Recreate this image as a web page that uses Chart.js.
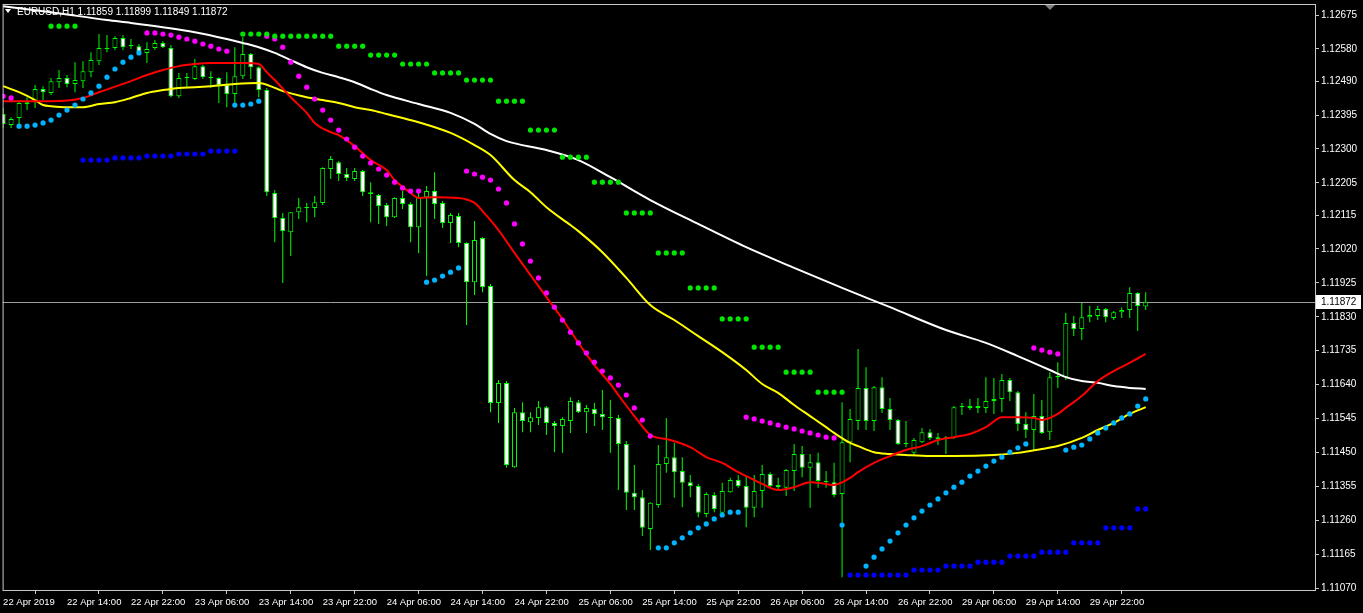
<!DOCTYPE html>
<html>
<head>
<meta charset="utf-8">
<script src="https://cdn.jsdelivr.net/npm/chart.js@4.4.1/dist/chart.umd.min.js"></script>
<style>
  html, body { margin: 0; padding: 0; background: #000; }
  canvas { display: block; }
</style>
</head>
<body>
<canvas id="chart" width="1363" height="613"></canvas>
<script>
// EURUSD H1, one value per bar (bar 0 = 22 Apr 06:00)
const symbolTitle = 'EURUSD,H1';
const timeLabels = ['22 Apr 2019', '22 Apr 14:00', '22 Apr 22:00', '23 Apr 06:00', '23 Apr 14:00',
  '23 Apr 22:00', '24 Apr 06:00', '24 Apr 14:00', '24 Apr 22:00', '25 Apr 06:00', '25 Apr 14:00',
  '25 Apr 22:00', '26 Apr 06:00', '26 Apr 14:00', '26 Apr 22:00', '29 Apr 06:00', '29 Apr 14:00', '29 Apr 22:00'];
const priceTicks = [1.12675, 1.12580, 1.12490, 1.12395, 1.12300, 1.12205, 1.12115, 1.12020, 1.11925,
  1.11830, 1.11735, 1.11640, 1.11545, 1.11450, 1.11355, 1.11260, 1.11165, 1.11070];

const openP = [
  1.12398,1.12367,1.12387,1.12426,1.12431,1.12468,1.12457,1.12487,1.12499,1.12482,
  1.12490,1.12515,1.12546,1.12580,1.12583,1.12611,1.12591,1.12588,1.12569,1.12583,
  1.12597,1.12583,1.12448,1.12499,1.12496,1.12532,1.12501,1.12499,1.12479,1.12454,
  1.12504,1.12566,1.12529,1.12465,1.12177,1.12107,1.12067,1.12123,1.12137,1.12135,
  1.12149,1.12244,1.12263,1.12230,1.12216,1.12238,1.12179,1.12171,1.12143,1.12109,
  1.12163,1.12146,1.12081,1.12165,1.12182,1.12149,1.12093,1.12112,1.12037,1.11927,
  1.12051,1.11916,1.11589,1.11645,1.11409,1.11563,1.11535,1.11547,1.11577,1.11533,
  1.11524,1.11538,1.11591,1.11563,1.11572,1.11558,1.11549,1.11547,1.11474,1.11337,
  1.11325,1.11236,1.11303,1.11418,1.11437,1.11398,1.11367,1.11356,1.11278,1.11331,
  1.11281,1.11339,1.11373,1.11356,1.11295,1.11342,1.11390,1.11359,1.11351,1.11398,
  1.11446,1.11407,1.11423,1.11370,1.11367,1.11334,1.11479,1.11538,1.11631,1.11538,
  1.11633,1.11572,1.11541,1.11474,1.11449,1.11479,1.11507,1.11493,1.11488,1.11491,
  1.11577,1.11575,1.11580,1.11575,1.11594,1.11600,1.11653,1.11619,1.11530,1.11513,
  1.11552,1.11507,1.11661,1.11661,1.11813,1.11796,1.11829,1.11832,1.11852,1.11827,
  1.11843,1.11849,1.11897,1.11859
];
const highP = [
  1.12415,1.12389,1.12431,1.12445,1.12479,1.12476,1.12499,1.12521,1.12507,1.12543,
  1.12546,1.12571,1.12622,1.12619,1.12616,1.12619,1.12608,1.12594,1.12599,1.12605,
  1.12602,1.12591,1.12513,1.12513,1.12552,1.12535,1.12518,1.12501,1.12515,1.12585,
  1.12613,1.12569,1.12532,1.12471,1.12185,1.12121,1.12123,1.12163,1.12149,1.12168,
  1.12249,1.12280,1.12266,1.12247,1.12247,1.12241,1.12207,1.12174,1.12149,1.12165,
  1.12182,1.12151,1.12177,1.12196,1.12235,1.12154,1.12121,1.12121,1.12039,1.12098,
  1.12053,1.11922,1.11653,1.11650,1.11575,1.11591,1.11563,1.11594,1.11580,1.11538,
  1.11549,1.11605,1.11597,1.11583,1.11589,1.11625,1.11597,1.11555,1.11482,1.11415,
  1.11345,1.11311,1.11471,1.11547,1.11477,1.11437,1.11387,1.11362,1.11339,1.11339,
  1.11365,1.11379,1.11387,1.11384,1.11387,1.11415,1.11395,1.11379,1.11404,1.11474,
  1.11468,1.11446,1.11449,1.11398,1.11421,1.11591,1.11572,1.11740,1.11689,1.11636,
  1.11661,1.11603,1.11544,1.11538,1.11491,1.11519,1.11516,1.11505,1.11496,1.11580,
  1.11589,1.11600,1.11603,1.11661,1.11659,1.11670,1.11659,1.11622,1.11563,1.11614,
  1.11597,1.11675,1.11703,1.11841,1.11832,1.11869,1.11860,1.11860,1.11855,1.11846,
  1.11857,1.11913,1.11899,1.11899
];
const lowP = [
  1.12359,1.12359,1.12361,1.12409,1.12415,1.12437,1.12451,1.12471,1.12473,1.12459,
  1.12471,1.12501,1.12535,1.12571,1.12577,1.12577,1.12580,1.12563,1.12541,1.12577,
  1.12583,1.12445,1.12443,1.12471,1.12493,1.12496,1.12471,1.12429,1.12417,1.12429,
  1.12496,1.12496,1.12445,1.12168,1.12039,1.11925,1.12000,1.12104,1.12095,1.12109,
  1.12143,1.12216,1.12210,1.12210,1.12210,1.12168,1.12095,1.12090,1.12084,1.12107,
  1.12132,1.12039,1.12009,1.11944,1.12104,1.12079,1.12037,1.12025,1.11807,1.11891,
  1.11899,1.11563,1.11533,1.11407,1.11407,1.11507,1.11507,1.11527,1.11499,1.11451,
  1.11449,1.11505,1.11561,1.11505,1.11524,1.11513,1.11449,1.11345,1.11289,1.11289,
  1.11216,1.11177,1.11295,1.11393,1.11323,1.11297,1.11325,1.11269,1.11269,1.11283,
  1.11275,1.11337,1.11351,1.11241,1.11269,1.11295,1.11353,1.11345,1.11328,1.11342,
  1.11381,1.11295,1.11351,1.11351,1.11325,1.11101,1.11423,1.11513,1.11513,1.11510,
  1.11561,1.11513,1.11471,1.11465,1.11443,1.11477,1.11485,1.11471,1.11446,1.11488,
  1.11555,1.11569,1.11561,1.11561,1.11558,1.11563,1.11594,1.11510,1.11491,1.11454,
  1.11502,1.11485,1.11631,1.11653,1.11776,1.11765,1.11815,1.11821,1.11815,1.11821,
  1.11827,1.11827,1.11790,1.11849
];
const closeP = [
  1.12370,1.12384,1.12429,1.12431,1.12468,1.12459,1.12490,1.12499,1.12482,1.12493,
  1.12518,1.12549,1.12583,1.12583,1.12611,1.12585,1.12588,1.12571,1.12580,1.12597,
  1.12585,1.12448,1.12499,1.12501,1.12532,1.12501,1.12499,1.12479,1.12454,1.12504,
  1.12566,1.12529,1.12465,1.12179,1.12107,1.12070,1.12123,1.12137,1.12135,1.12151,
  1.12247,1.12272,1.12230,1.12219,1.12238,1.12179,1.12174,1.12140,1.12109,1.12163,
  1.12146,1.12081,1.12165,1.12182,1.12146,1.12093,1.12115,1.12037,1.11927,1.12045,
  1.11913,1.11589,1.11645,1.11415,1.11563,1.11538,1.11549,1.11577,1.11533,1.11524,
  1.11544,1.11594,1.11563,1.11575,1.11558,1.11549,1.11547,1.11474,1.11337,1.11325,
  1.11239,1.11309,1.11418,1.11437,1.11395,1.11365,1.11356,1.11281,1.11334,1.11292,
  1.11342,1.11373,1.11356,1.11295,1.11342,1.11390,1.11356,1.11353,1.11401,1.11446,
  1.11407,1.11423,1.11370,1.11367,1.11331,1.11479,1.11544,1.11631,1.11538,1.11633,
  1.11572,1.11541,1.11474,1.11477,1.11485,1.11507,1.11491,1.11488,1.11493,1.11577,
  1.11580,1.11580,1.11575,1.11594,1.11600,1.11653,1.11619,1.11530,1.11513,1.11552,
  1.11505,1.11661,1.11664,1.11813,1.11796,1.11829,1.11835,1.11852,1.11829,1.11843,
  1.11849,1.11897,1.11860,1.11872
];

// moving averages: [bar, price]
const maFast = [[0,1.12434],[6,1.12434],[10,1.12443],[12,1.12459],[16,1.12490],[18,1.12507],[20,1.12521],
  [22,1.12532],[24,1.12538],[26,1.12541],[30,1.12541],[32,1.12538],[33,1.12515],[34,1.12493],[36,1.12445],
  [38,1.12401],[39,1.12373],[41,1.12347],[42,1.12339],[44,1.12308],[46,1.12269],[48,1.12241],[49,1.12213],
  [51,1.12177],[52,1.12163],[54,1.12165],[57,1.12163],[59,1.12149],[60,1.12126],[62,1.12073],[64,1.12009],
  [66,1.11947],[68,1.11885],[70,1.11824],[72,1.11757],[74,1.11695],[76,1.11642],[77,1.11611],[79,1.11552],
  [81,1.11499],[82,1.11491],[83,1.11488],[86,1.11465],[88,1.11437],[90,1.11421],[92,1.11395],[94,1.11373],
  [95,1.11362],[97,1.11345],[99,1.11353],[101,1.11367],[103,1.11362],[104,1.11359],[106,1.11379],[107,1.11395],
  [109,1.11421],[111,1.11440],[113,1.11457],[115,1.11468],[117,1.11485],[119,1.11493],[121,1.11502],
  [123,1.11521],[125,1.11549],[127,1.11549],[129,1.11547],[130,1.11541],[132,1.11558],[133,1.11575],
  [135,1.11608],[137,1.11650],[139,1.11678],[141,1.11701],[143,1.11726]];
const maMid = [[0,1.12476],[2,1.12459],[4,1.12437],[5,1.12423],[6,1.12420],[8,1.12417],[10,1.12417],
  [12,1.12426],[14,1.12431],[16,1.12443],[18,1.12457],[20,1.12465],[22,1.12471],[24,1.12473],[26,1.12476],
  [29,1.12482],[32,1.12485],[34,1.12471],[35,1.12462],[38,1.12445],[40,1.12437],[42,1.12429],[44,1.12417],
  [46,1.12409],[48,1.12398],[52,1.12375],[56,1.12345],[59,1.12311],[61,1.12283],[64,1.12213],[66,1.12179],
  [68,1.12137],[71,1.12087],[72,1.12070],[75,1.12011],[78,1.11939],[81,1.11863],[84,1.11821],[87,1.11776],
  [90,1.11731],[93,1.11681],[95,1.11642],[97,1.11617],[99,1.11583],[101,1.11552],[103,1.11521],[104,1.11505],
  [106,1.11477],[107,1.11468],[109,1.11451],[111,1.11446],[113,1.11443],[116,1.11440],[119,1.11440],
  [124,1.11443],[127,1.11449],[130,1.11460],[132,1.11468],[135,1.11491],[137,1.11513],[139,1.11533],
  [141,1.11558],[143,1.11577]];
const maSlow = [[0,1.12700],[6,1.12683],[13,1.12661],[16,1.12653],[20,1.12641],[24,1.12627],[28,1.12608],
  [30,1.12597],[32,1.12585],[34,1.12569],[36,1.12549],[38,1.12529],[40,1.12513],[42,1.12501],[44,1.12487],
  [46,1.12468],[48,1.12451],[52,1.12426],[56,1.12401],[59,1.12370],[61,1.12342],[63,1.12322],[68,1.12297],
  [72,1.12269],[76,1.12221],[81,1.12157],[87,1.12090],[93,1.12025],[99,1.11967],[105,1.11911],[111,1.11857],
  [118,1.11793],[123,1.11757],[127,1.11720],[131,1.11681],[133,1.11661],[135,1.11650],[137,1.11645],
  [139,1.11636],[141,1.11631],[143,1.11628]];

// parabolic SAR dots: [bar, price]
const sarUp = [[2,1.12364],[3,1.12364],[4,1.12367],[5,1.12373],[6,1.12381],[7,1.12395],[8,1.12409],[9,1.12423],
  [10,1.12440],[11,1.12457],[12,1.12476],[13,1.12501],[14,1.12524],[15,1.12543],[16,1.12557],[17,1.12569],
  [29,1.12423],[30,1.12423],[31,1.12426],[32,1.12434],
  [53,1.11927],[54,1.11933],[55,1.11944],[56,1.11955],[57,1.11967],
  [82,1.11183],[83,1.11183],[84,1.11197],[85,1.11211],[86,1.11225],[87,1.11239],[88,1.11250],[89,1.11264],
  [90,1.11275],[91,1.11283],[92,1.11283],
  [105,1.11247],[108,1.11132],[109,1.11157],[110,1.11180],[111,1.11202],[112,1.11225],[113,1.11247],
  [114,1.11267],[115,1.11286],[116,1.11303],[117,1.11320],[118,1.11337],[119,1.11353],[120,1.11367],
  [121,1.11384],[122,1.11398],[123,1.11412],[124,1.11426],[125,1.11437],[126,1.11451],[127,1.11463],[128,1.11474],
  [133,1.11457],[134,1.11465],[135,1.11471],[136,1.11488],[137,1.11505],[138,1.11519],[139,1.11533],
  [140,1.11547],[141,1.11558],[142,1.11580],[143,1.11600]];
const sarDown = [[0,1.12448],[1,1.12443],
  [18,1.12625],[19,1.12625],[20,1.12622],[21,1.12619],[22,1.12613],[23,1.12608],[24,1.12602],[25,1.12594],
  [26,1.12588],[27,1.12580],[28,1.12574],
  [33,1.12616],[34,1.12608],[35,1.12585],[36,1.12543],[37,1.12504],[38,1.12473],[39,1.12440],[40,1.12409],
  [41,1.12381],[42,1.12353],[43,1.12328],[44,1.12305],[45,1.12280],[46,1.12261],[47,1.12244],[48,1.12227],
  [49,1.12207],[50,1.12191],[51,1.12182],[52,1.12182],
  [58,1.12238],[59,1.12230],[60,1.12221],[61,1.12213],[62,1.12188],[63,1.12149],[64,1.12090],[65,1.12034],
  [66,1.11986],[67,1.11939],[68,1.11897],[69,1.11857],[70,1.11821],[71,1.11787],[72,1.11757],[73,1.11729],
  [74,1.11703],[75,1.11678],[76,1.11659],[77,1.11639],[78,1.11611],[79,1.11575],[80,1.11541],[81,1.11496],
  [93,1.11549],[94,1.11544],[95,1.11538],[96,1.11533],[97,1.11527],[98,1.11521],[99,1.11516],[100,1.11510],
  [101,1.11505],[102,1.11499],[103,1.11493],[104,1.11491],
  [129,1.11743],[130,1.11737],[131,1.11731],[132,1.11726]];

// channel levels drawn as dots: [first bar, last bar, price]
const upperLevels = [[6,9,1.12644],[30,33,1.12622],[34,41,1.12616],[42,45,1.12588],[46,49,1.12563],
  [50,53,1.12538],[54,57,1.12513],[58,61,1.12493],[62,65,1.12434],[66,69,1.12353],[70,73,1.12277],
  [74,77,1.12207],[78,81,1.12121],[82,85,1.12009],[86,89,1.11911],[90,93,1.11824],[94,97,1.11745],
  [98,101,1.11675],[102,105,1.11619]];
const lowerLevels = [[10,13,1.12269],[14,17,1.12275],[18,21,1.12280],[22,25,1.12286],[26,29,1.12294],
  [106,113,1.11107],[114,117,1.11121],[118,121,1.11132],[122,125,1.11143],[126,129,1.11160],
  [130,133,1.11171],[134,137,1.11197],[138,141,1.11239],[142,143,1.11292]];

function pairsToPoints(pairs) {
  return pairs.map(p => ({ x: p[0], y: p[1] }));
}
function levelsToPoints(levels) {
  const pts = [];
  levels.forEach(l => {
    for (let i = l[0]; i <= l[1]; i++) pts.push({ x: i, y: l[2] });
  });
  return pts;
}

const lastBar = closeP.length - 1;

Chart.defaults.font.family = "'Liberation Sans', Arial, sans-serif";

const mtPlugin = {
  id: 'mt',
  beforeDraw(chart) {
    const c = chart.ctx;
    c.save();
    c.fillStyle = '#000';
    c.fillRect(0, 0, chart.width, chart.height);
    c.restore();
  },
  beforeDatasetsDraw(chart) {
    const c = chart.ctx, a = chart.chartArea;
    const y = Math.round(chart.scales.y.getPixelForValue(closeP[lastBar])) + 0.5;
    c.save();
    c.strokeStyle = '#a0a0a0';
    c.lineWidth = 1;
    c.beginPath();
    c.moveTo(a.left, y);
    c.lineTo(a.right, y);
    c.stroke();
    c.restore();
  },
  afterDraw(chart) {
    const c = chart.ctx, a = chart.chartArea;
    c.save();
    // frame
    c.strokeStyle = '#c8c8c8';
    c.lineWidth = 1;
    c.strokeRect(a.left + 0.5, a.top + 0.5, a.right - a.left, a.bottom - a.top);
    // header
    c.fillStyle = '#fff';
    c.beginPath();
    c.moveTo(5, 9); c.lineTo(11, 9); c.lineTo(8, 13); c.closePath();
    c.fill();
    c.font = "10px 'Liberation Sans', Arial, sans-serif";
    c.textBaseline = 'middle';
    c.textAlign = 'left';
    const hdr = symbolTitle + ' ' + [openP[lastBar], highP[lastBar], lowP[lastBar], closeP[lastBar]]
      .map(v => v.toFixed(5)).join(' ');
    c.fillText(hdr, 17, 12);
    // chart shift marker
    c.fillStyle = '#808080';
    c.beginPath();
    c.moveTo(1045, a.top + 1); c.lineTo(1055, a.top + 1); c.lineTo(1050, a.top + 6); c.closePath();
    c.fill();
    // current price label
    const y = Math.round(chart.scales.y.getPixelForValue(closeP[lastBar]));
    c.fillStyle = '#fff';
    c.fillRect(a.right + 1, y - 7, 45, 14);
    c.fillStyle = '#000';
    c.fillText(closeP[lastBar].toFixed(5), a.right + 6, y);
    c.restore();
  }
};

const dotStyle = { type: 'line', showLine: false, pointRadius: 2.6, pointHoverRadius: 2.6, pointBorderWidth: 0 };

new Chart(document.getElementById('chart'), {
  type: 'bar',
  data: {
    datasets: [
      Object.assign({}, dotStyle, { data: levelsToPoints(upperLevels), pointBackgroundColor: '#00e600', order: 0 }),
      Object.assign({}, dotStyle, { data: levelsToPoints(lowerLevels), pointBackgroundColor: '#0000ff', order: 0 }),
      Object.assign({}, dotStyle, { data: pairsToPoints(sarUp), pointBackgroundColor: '#00b4ff', order: 0 }),
      Object.assign({}, dotStyle, { data: pairsToPoints(sarDown), pointBackgroundColor: '#ff00ff', order: 0 }),
      { type: 'line', data: pairsToPoints(maFast), borderColor: '#ff0000', borderWidth: 2, pointRadius: 0,
        cubicInterpolationMode: 'monotone', order: 1 },
      { type: 'line', data: pairsToPoints(maMid), borderColor: '#ffff00', borderWidth: 2, pointRadius: 0,
        cubicInterpolationMode: 'monotone', order: 2 },
      { type: 'line', data: pairsToPoints(maSlow), borderColor: '#ffffff', borderWidth: 2, pointRadius: 0,
        cubicInterpolationMode: 'monotone', order: 3 },
      { // candle bodies
        type: 'bar',
        data: openP.map((o, i) => ({ x: i, y: [o, closeP[i]] })),
        backgroundColor: openP.map((o, i) => closeP[i] < o ? '#ffffff' : '#000000'),
        borderColor: '#00ff00', borderWidth: 1, borderSkipped: false, inflateAmount: 0,
        grouped: false, barThickness: 5, maxBarThickness: 5, minBarLength: 1, order: 4
      },
      { // wicks
        type: 'bar',
        data: lowP.map((l, i) => ({ x: i, y: [l, highP[i]] })),
        backgroundColor: '#00ff00', borderWidth: 0, inflateAmount: 0,
        grouped: false, barThickness: 1, maxBarThickness: 1, order: 5
      }
    ]
  },
  options: {
    responsive: false,
    animation: false,
    events: [],
    layout: { padding: { left: 1, top: 4, right: 0, bottom: 0 } },
    plugins: { legend: { display: false }, tooltip: { enabled: false } },
    scales: {
      x: {
        type: 'linear',
        min: -0.0625,
        max: 164.1875,
        offset: false,
        afterBuildTicks: axis => { axis.ticks = timeLabels.map((t, k) => ({ value: k * 8 })); },
        afterFit: axis => {
          axis.height = 23;
          axis.paddingLeft = 0;
          axis.paddingRight = 0;
        },
        ticks: {
          autoSkip: false, maxRotation: 0, align: 'start', padding: 3,
          color: '#ffffff', font: { size: 9.5 },
          callback: (v, idx) => timeLabels[idx]
        },
        grid: { display: true, drawOnChartArea: false, drawTicks: true, tickLength: 4, color: '#c8c8c8' },
        border: { display: false }
      },
      y: {
        type: 'linear',
        position: 'right',
        min: 1.11065,
        max: 1.12706,
        afterBuildTicks: axis => { axis.ticks = priceTicks.map(v => ({ value: v })); },
        afterFit: axis => {
          axis.width = 48;
          axis.paddingTop = 0;
          axis.paddingBottom = 0;
        },
        ticks: {
          padding: 2, color: '#ffffff', font: { size: 10 },
          callback: v => Number(v).toFixed(5)
        },
        grid: { display: true, drawOnChartArea: false, drawTicks: true, tickLength: 4, color: '#c8c8c8' },
        border: { display: false }
      }
    }
  },
  plugins: [mtPlugin]
});
</script>
</body>
</html>
